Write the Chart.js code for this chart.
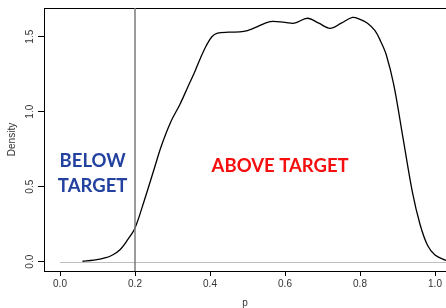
<!DOCTYPE html>
<html>
<head>
<meta charset="utf-8">
<script src="https://cdn.jsdelivr.net/npm/chart.js@4/dist/chart.umd.min.js"></script>
<style>
  html, body { margin: 0; padding: 0; background: #fff; }
  #wrap { width: 446px; height: 308px; }
</style>
</head>
<body>
<div id="wrap"><canvas id="chartDensity"></canvas></div>
<script>
// density of p
const pValues = [0.06, 0.09, 0.12, 0.14, 0.16, 0.18, 0.20, 0.225, 0.25, 0.27, 0.295, 0.32, 0.34, 0.36, 0.375, 0.39, 0.405, 0.42, 0.45, 0.49, 0.52, 0.56, 0.60, 0.625, 0.66, 0.69, 0.72, 0.75, 0.78, 0.80, 0.82, 0.84, 0.855, 0.87, 0.89, 0.915, 0.94, 0.96, 0.98, 1.00, 1.03];
const densityValues = [0.003, 0.01, 0.025, 0.045, 0.08, 0.145, 0.225, 0.41, 0.61, 0.77, 0.93, 1.05, 1.16, 1.27, 1.36, 1.44, 1.50, 1.523, 1.53, 1.535, 1.56, 1.60, 1.595, 1.59, 1.623, 1.59, 1.556, 1.59, 1.629, 1.615, 1.59, 1.54, 1.47, 1.38, 1.18, 0.82, 0.46, 0.25, 0.11, 0.045, 0.008];
const xTicks = [0, 0.2, 0.4, 0.6, 0.8, 1.0];
const yTicks = [0, 0.5, 1.0, 1.5];
const targetP = 0.2;
const noteTexts = [["BELOW", "TARGET"], ["ABOVE TARGET"]];
const noteP = [0.087, 0.587];
const noteDensity = [0.585, 0.64];
const noteColors = ["#2342a0", "#f50f0f"];

const points = pValues.map((p, i) => ({ x: p, y: densityValues[i] }));
const tickFont = { family: '"Liberation Sans", Arial, sans-serif', size: 10 };

const overlay = {
    id: 'overlay',
    beforeDatasetsDraw(chart) {
        const { ctx, chartArea, scales } = chart;
        const y0 = Math.round(scales.y.getPixelForValue(0)) + 0.5;
        ctx.save();
        ctx.strokeStyle = '#bdbdbd';
        ctx.lineWidth = 1;
        ctx.beginPath();
        ctx.moveTo(scales.x.getPixelForValue(0), y0);
        ctx.lineTo(chartArea.right, y0);
        ctx.stroke();
        // top frame line
        ctx.strokeStyle = '#000';
        ctx.beginPath();
        ctx.moveTo(chartArea.left, Math.round(chartArea.top) + 0.5);
        ctx.lineTo(chartArea.right, Math.round(chartArea.top) + 0.5);
        ctx.stroke();
        ctx.restore();
    },
    afterDatasetsDraw(chart) {
        const { ctx, chartArea, scales } = chart;
        const xv = scales.x.getPixelForValue(targetP);
        ctx.save();
        ctx.strokeStyle = '#7a7a7a';
        ctx.lineWidth = 1.5;
        ctx.beginPath();
        ctx.moveTo(xv, chartArea.top);
        ctx.lineTo(xv, chartArea.bottom);
        ctx.stroke();

        ctx.font = 'bold 18.5px Lato, "Open Sans", sans-serif';
        ctx.textAlign = 'center';
        ctx.textBaseline = 'middle';
        noteTexts.forEach((lines, i) => {
            const cx = scales.x.getPixelForValue(noteP[i]);
            const cy = scales.y.getPixelForValue(noteDensity[i]);
            ctx.fillStyle = noteColors[i];
            lines.forEach((t, k) => {
                ctx.fillText(t, cx, cy + (k - (lines.length - 1) / 2) * 25);
            });
        });
        ctx.restore();
    }
};

new Chart(document.getElementById('chartDensity').getContext('2d'), {
    type: 'line',
    data: {
        datasets: [{
            data: points,
            borderColor: '#000',
            borderWidth: 1.3,
            pointRadius: 0,
            fill: false,
            tension: 0.35
        }]
    },
    options: {
        responsive: true,
        maintainAspectRatio: false,
        animation: false,
        layout: { padding: { top: 8 } },
        plugins: { legend: { display: false }, tooltip: { enabled: false } },
        scales: {
            x: {
                type: 'linear',
                position: 'bottom',
                min: -0.04267,
                max: 1.02933,
                afterBuildTicks: s => { s.ticks = xTicks.map(v => ({ value: v })); },
                afterFit: s => { s.height = 37; },
                grid: { drawOnChartArea: false, drawTicks: true, tickLength: 5, color: '#000' },
                border: { color: '#000', width: 1 },
                ticks: { color: '#333', font: tickFont, padding: 2, maxRotation: 0, callback: v => v.toFixed(1) },
                title: { display: true, text: 'p', color: '#333', font: tickFont, padding: { top: 0, bottom: -1 } }
            },
            y: {
                min: -0.062,
                max: 1.6913,
                afterBuildTicks: s => { s.ticks = yTicks.map(v => ({ value: v })); },
                afterFit: s => { s.width = 44; },
                grid: { drawOnChartArea: false, drawTicks: true, tickLength: 6, color: '#000' },
                border: { color: '#000', width: 1 },
                ticks: { color: '#333', font: tickFont, padding: 1, minRotation: 90, maxRotation: 90, crossAlign: 'center', callback: v => v.toFixed(1) },
                title: { display: true, text: 'Density', color: '#333', font: tickFont, padding: { top: 6, bottom: 0 } }
            }
        }
    },
    plugins: [overlay]
});
</script>
</body>
</html>
